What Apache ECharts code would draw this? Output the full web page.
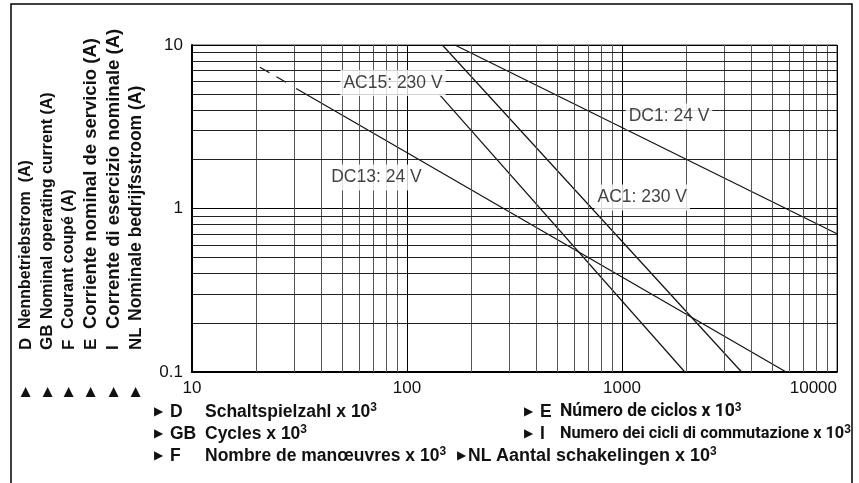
<!DOCTYPE html>
<html>
<head>
<meta charset="utf-8">
<script src="https://cdn.jsdelivr.net/npm/echarts@6/dist/echarts.min.js"></script>
<style>
  html, body { margin: 0; padding: 0; background: #fff; }
  #main { width: 859px; height: 483px; }
</style>
</head>
<body>
<div id="main"></div>
<script>
// switching cycles (x 10^3) vs rated operating current (A), log-log
const xMinor = [20, 30, 40, 50, 60, 70, 80, 90, 200, 300, 400, 500, 600, 700, 800, 900,
  2000, 3000, 4000, 5000, 6000, 7000, 8000, 9000];
const yMinor = [0.2, 0.3, 0.4, 0.5, 0.6, 0.7, 0.8, 0.9, 2, 3, 4, 5, 6, 7, 8, 9];

const dc13Dashed = [[20.7, 7.3], [29.5, 5.6]];
const dc13 = [[30.5, 5.42], [5800, 0.1]];
const ac15 = [[141, 5.0], [1960, 0.1]];
const ac1 = [[146, 10], [3600, 0.1]];
const dc1 = [[167, 10], [10000, 0.7]];

const curveNames = ['AC15: 230 V', 'DC13: 24 V', 'DC1: 24 V', 'AC1: 230 V'];
const curveLabelAt = [[49, 5.86], [43, 1.55], [1040, 3.65], [745, 1.167]];

const yCodes = ['D', 'GB', 'F', 'E', 'I', 'NL'];
const yNames = ['Nennbetriebstrom  (A)', 'Nominal operating current (A)', 'Courant coupé (A)',
  'Corriente nominal de servicio (A)', 'Corrente di esercizio nominale (A)', 'Nominale bedrijfsstroom (A)'];
const xCodes = ['D', 'GB', 'F', 'E', 'I', 'NL'];
const xNames = ['Schaltspielzahl x 10', 'Cycles x 10', 'Nombre de manœuvres x 10',
  'Número de ciclos x 10', 'Numero dei cicli di commutazione x 10', 'Aantal schakelingen x 10'];

const chart = echarts.init(document.getElementById('main'));
const FONT = '"Liberation Sans", Arial, Helvetica, sans-serif';
const TIGHT = 'Roboto, "Liberation Sans", Arial, sans-serif';

// rotated y legend
const colX = [26, 47.5, 69, 91, 113.5, 136];
const nameStartY = [329, 319, 329, 329, 329, 321];
const nameSize = [16, 16, 16, 18.5, 18.5, 17.5];
const graphics = [{
  type: 'rect', shape: { x: 11, y: 4, width: 841, height: 520 },
  style: { fill: 'none', stroke: '#000', lineWidth: 1.5 }, z: 0
}];
yCodes.forEach((c, i) => {
  graphics.push({ type: 'text', x: colX[i], y: 392, rotation: Math.PI / 2,
    style: { text: '▶', font: '13px "DejaVu Sans"', fill: '#111', textAlign: 'center', textVerticalAlign: 'middle' } });
  graphics.push({ type: 'text', x: colX[i], y: 350, rotation: Math.PI / 2,
    style: { text: c, font: 'bold 17px ' + FONT, fill: '#111', textAlign: 'left', textVerticalAlign: 'middle' } });
  graphics.push({ type: 'text', x: colX[i], y: nameStartY[i], rotation: Math.PI / 2,
    style: { text: yNames[i], font: 'bold ' + nameSize[i] + 'px ' + FONT, fill: '#111',
      textAlign: 'left', textVerticalAlign: 'middle' } });
});

// bottom legend
const rowY = [412, 434, 456, 412, 434, 456];
const arrowX = [154, 154, 154, 524, 524, 457];
const codeX = [170, 170, 170, 540, 540, 468];
const nameX = [205, 205, 205, 560, 560, 496];
const rowFont = ['bold 17.5px ' + FONT, 'bold 17.5px ' + FONT, 'bold 17.5px ' + FONT,
  'bold 17.5px ' + TIGHT, 'bold 16.3px ' + TIGHT, 'bold 18px ' + FONT];
xCodes.forEach((c, i) => {
  graphics.push({ type: 'text', x: arrowX[i], y: rowY[i],
    style: { text: '▶', font: '12px "DejaVu Sans"', fill: '#111', textAlign: 'left', textVerticalAlign: 'middle' } });
  graphics.push({ type: 'text', x: codeX[i], y: rowY[i],
    style: { text: c, font: 'bold 17.5px ' + FONT, fill: '#111', textAlign: 'left', textVerticalAlign: 'middle' } });
  graphics.push({ type: 'text', x: nameX[i], y: rowY[i],
    style: { text: '{n|' + xNames[i] + '}{s|3}', textAlign: 'left', textVerticalAlign: 'middle',
      rich: {
        n: { font: rowFont[i], fill: '#111', lineHeight: 21 },
        s: { font: 'bold 12px ' + FONT, fill: '#111', lineHeight: 12, verticalAlign: 'top' }
      } } });
});

const curveStyle = { color: '#111', width: 1.2 };
function curve(data, extra) {
  return Object.assign({ type: 'line', data: data, symbol: 'none', z: 3, silent: true,
    lineStyle: curveStyle }, extra || {});
}

const option = {
  animation: false,
  grid: { left: 192, top: 45, right: 22, bottom: 111, show: true, borderColor: '#444', borderWidth: 1 },
  xAxis: {
    type: 'log', logBase: 10, min: 10, max: 10000,
    axisLine: { lineStyle: { color: '#000', width: 2 } },
    axisTick: { show: false },
    axisLabel: { fontSize: 17, color: '#111', fontFamily: FONT, margin: 8, alignMaxLabel: 'right',
      formatter: v => String(Math.round(v)) },
    splitLine: { show: true, lineStyle: { color: '#000', width: 1 } }
  },
  yAxis: {
    type: 'log', logBase: 10, min: 0.1, max: 10,
    axisLine: { lineStyle: { color: '#000', width: 2 } },
    axisTick: { show: false },
    axisLabel: { fontSize: 17, color: '#111', fontFamily: FONT, margin: 9 },
    splitLine: { show: true, lineStyle: { color: '#000', width: 1 } }
  },
  graphic: graphics,
  series: [
    {
      type: 'line', data: [], z: 1, silent: true,
      markLine: {
        silent: true, symbol: 'none', label: { show: false },
        lineStyle: { type: 'solid', color: '#555', width: 1 },
        data: xMinor.map(v => ({ xAxis: v }))
      }
    },
    {
      type: 'line', data: [], z: 1, silent: true,
      markLine: {
        silent: true, symbol: 'none', label: { show: false },
        lineStyle: { type: 'solid', color: '#222', width: 1 },
        data: yMinor.map(v => ({ yAxis: v }))
      }
    },
    curve(dc13Dashed, { lineStyle: { color: '#111', width: 1.2, type: [11, 8] } }),
    curve(dc13),
    curve(ac15),
    curve(ac1),
    curve(dc1),
    {
      type: 'scatter', z: 6, silent: true, symbolSize: 0,
      data: curveLabelAt.map((p, i) => ({ value: p, name: curveNames[i] })),
      label: {
        show: true, position: 'right', distance: 0, formatter: '{b}',
        fontSize: 17.5, fontFamily: FONT, color: '#111',
        backgroundColor: '#fff', padding: [4, 3]
      }
    }
  ]
};
chart.setOption(option);
</script>
</body>
</html>
